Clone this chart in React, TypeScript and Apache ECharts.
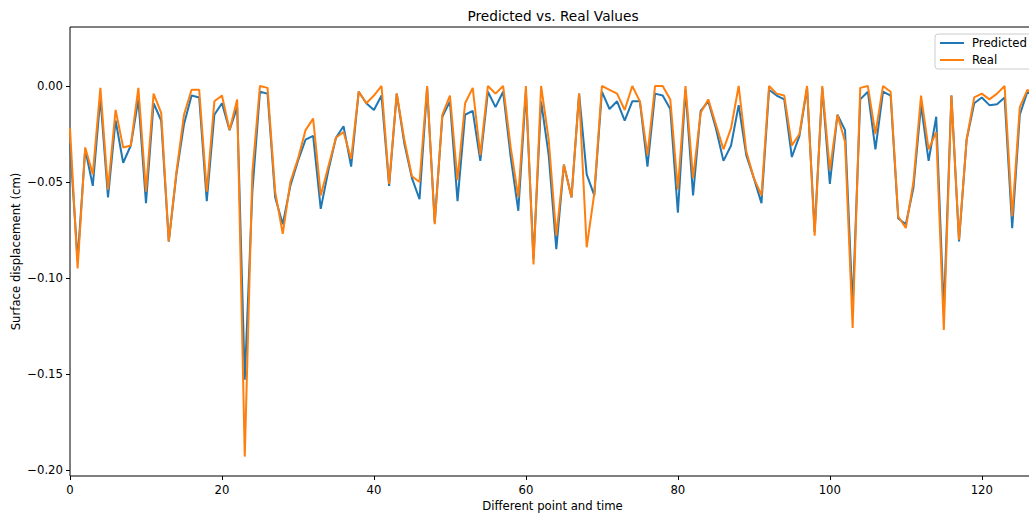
import React, { useEffect, useRef } from "react";
import * as echarts from "echarts";

const predicted: number[] = [
  -0.030, -0.091, -0.033, -0.052, -0.006, -0.058, -0.018, -0.040, -0.031, -0.007,
  -0.061, -0.009, -0.018, -0.081, -0.046, -0.020, -0.005, -0.006, -0.060, -0.015,
  -0.009, -0.023, -0.011, -0.153, -0.055, -0.003, -0.004, -0.058, -0.072, -0.052,
  -0.039, -0.028, -0.026, -0.064, -0.044, -0.027, -0.021, -0.042, -0.003, -0.009,
  -0.0125, -0.005, -0.052, -0.004, -0.030, -0.048, -0.059, -0.001, -0.071, -0.016,
  -0.008, -0.060, -0.015, -0.013, -0.039, -0.003, -0.011, -0.003, -0.037, -0.065,
  -0.003, -0.090, -0.008, -0.036, -0.085, -0.041, -0.058, -0.004, -0.046, -0.057,
  -0.003, -0.012, -0.008, -0.018, -0.008, -0.008, -0.042, -0.004, -0.005, -0.012,
  -0.066, -0.002, -0.057, -0.013, -0.008, -0.022, -0.039, -0.031, -0.010, -0.036,
  -0.048, -0.061, -0.002, -0.005, -0.007, -0.037, -0.026, -0.001, -0.076, -0.001,
  -0.051, -0.015, -0.023, -0.115, -0.007, -0.003, -0.033, -0.003, -0.005, -0.069,
  -0.072, -0.053, -0.010, -0.039, -0.016, -0.118, -0.005, -0.081, -0.028, -0.009,
  -0.006, -0.010, -0.0095, -0.006, -0.074, -0.015, -0.003, -0.006,
];

const real: number[] = [
  -0.022, -0.095, -0.032, -0.046, -0.001, -0.054, -0.0125, -0.032, -0.031, -0.001,
  -0.055, -0.004, -0.014, -0.081, -0.045, -0.015, -0.002, -0.002, -0.055, -0.008,
  -0.005, -0.023, -0.007, -0.193, -0.045, 0.000, -0.001, -0.055, -0.077, -0.050,
  -0.038, -0.023, -0.017, -0.057, -0.042, -0.027, -0.024, -0.038, -0.003, -0.009,
  -0.005, 0.000, -0.051, -0.004, -0.028, -0.047, -0.050, 0.000, -0.072, -0.015,
  -0.005, -0.049, -0.009, -0.001, -0.036, 0.000, -0.004, 0.000, -0.032, -0.058,
  0.000, -0.093, 0.000, -0.028, -0.078, -0.041, -0.058, -0.004, -0.084, -0.056,
  0.000, -0.002, -0.004, -0.0125, 0.000, -0.008, -0.036, 0.000, 0.000, -0.007,
  -0.054, 0.000, -0.048, -0.014, -0.007, -0.020, -0.033, -0.022, 0.000, -0.034,
  -0.048, -0.057, 0.000, -0.004, -0.005, -0.031, -0.025, 0.000, -0.078, 0.000,
  -0.044, -0.015, -0.029, -0.126, -0.001, 0.000, -0.025, 0.000, -0.003, -0.068,
  -0.074, -0.050, -0.005, -0.033, -0.024, -0.127, -0.005, -0.080, -0.028, -0.006,
  -0.004, -0.007, -0.004, 0.000, -0.068, -0.011, -0.002, -0.004,
];

const yTicks: number[] = [-0.2, -0.15, -0.1, -0.05, 0];
const xTickInterval = 20;

const FONT = "DejaVu Sans";

export default function App() {
  const ref = useRef<HTMLDivElement>(null);

  useEffect(() => {
    if (!ref.current) return;
    const chart = echarts.init(ref.current, undefined, { renderer: "svg" });
    const xs = predicted.map((_, i) => i);
    const fmtY = (v: number) => {
      const s = Math.abs(v) < 1e-9 ? "0.00" : v.toFixed(2);
      return s.replace("-", "\u2212");
    };
    chart.setOption({
      animation: false,
      backgroundColor: "#ffffff",
      title: {
        text: "Predicted vs. Real Values",
        left: 553,
        textAlign: "center",
        top: 9,
        padding: 0,
        textStyle: { fontFamily: FONT, fontSize: 13.7, fontWeight: "normal", color: "#000" },
      },
      legend: {
        left: 935,
        top: 34,
        orient: "vertical",
        backgroundColor: "#ffffff",
        borderColor: "#cccccc",
        borderWidth: 1,
        borderRadius: 3,
        padding: [3, 10, 3, 5],
        itemWidth: 24,
        itemHeight: 2,
        itemGap: 5,
        icon: "rect",
        textStyle: { fontFamily: FONT, fontSize: 11.7, color: "#000", padding: [0, 0, 0, 3] },
        data: ["Predicted", "Real"],
      },
      grid: {
        left: 70,
        top: 27,
        width: 965,
        height: 449,
        show: true,
        borderColor: "#000",
        borderWidth: 1,
        backgroundColor: "transparent",
        containLabel: false,
        outerBoundsMode: "none",
      },
      xAxis: {
        type: "value",
        min: 0,
        max: 127,
        interval: xTickInterval,
        name: "Different point and time",
        nameLocation: "middle",
        nameGap: 24,
        nameMoveOverlap: false,
        nameTextStyle: { fontFamily: FONT, fontSize: 11.7, color: "#000" },
        axisLine: { show: false, onZero: false },
        axisTick: { show: true, length: 4, lineStyle: { color: "#000", width: 1 } },
        axisLabel: {
          margin: 8,
          fontFamily: FONT,
          fontSize: 11.7,
          color: "#000",
          showMaxLabel: false,
        },
        splitLine: { show: false },
      },
      yAxis: {
        type: "value",
        min: -0.2031,
        max: 0.0307,
        name: "Surface displacement (cm)",
        nameLocation: "middle",
        nameGap: 48,
        nameMoveOverlap: false,
        nameTextStyle: { fontFamily: FONT, fontSize: 11.7, color: "#000" },
        axisLine: { show: false, onZero: false },
        axisTick: {
          show: true,
          length: 4,
          lineStyle: { color: "#000", width: 1 },
          customValues: yTicks,
        },
        axisLabel: {
          margin: 7,
          fontFamily: FONT,
          fontSize: 11.7,
          color: "#000",
          customValues: yTicks,
          formatter: fmtY,
        },
        splitLine: { show: false },
      },
      series: [
        {
          name: "Predicted",
          type: "line",
          data: xs.map((x) => [x, predicted[x]]),
          showSymbol: false,
          symbol: "none",
          lineStyle: { color: "#1f77b4", width: 2 },
          itemStyle: { color: "#1f77b4" },
          clip: true,
        },
        {
          name: "Real",
          type: "line",
          data: xs.map((x) => [x, real[x]]),
          showSymbol: false,
          symbol: "none",
          lineStyle: { color: "#ff7f0e", width: 2 },
          itemStyle: { color: "#ff7f0e" },
          clip: true,
        },
      ],
    });
    return () => chart.dispose();
  }, []);

  return (
    <div
      ref={ref}
      style={{ position: "fixed", left: 0, top: 0, width: 1070, height: 516 }}
    />
  );
}
